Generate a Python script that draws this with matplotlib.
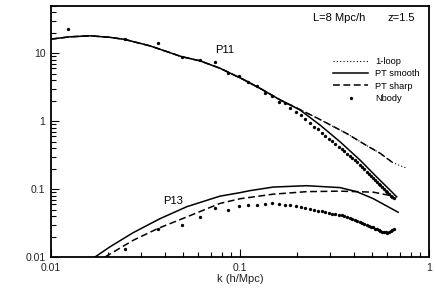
import numpy as np
import matplotlib
matplotlib.use("Agg")
import matplotlib.pyplot as plt

plt.rcParams['font.family'] = ['Liberation Sans', 'DejaVu Sans']

# N-body bins (h/Mpc)
k_nbody = [0.0123, 0.0246, 0.0369, 0.0492, 0.0615, 0.0738, 0.0861, 0.0984, 0.1107, 0.1230,
           0.1353, 0.1476, 0.1599, 0.1722, 0.1845, 0.1968, 0.2091, 0.2214, 0.2337, 0.2460,
           0.2583, 0.2706, 0.2829, 0.2952, 0.3075, 0.3198, 0.3321, 0.3444, 0.3567, 0.3690,
           0.3813, 0.3936, 0.4059, 0.4182, 0.4305, 0.4428, 0.4551, 0.4674, 0.4797, 0.4920,
           0.5043, 0.5166, 0.5289, 0.5412, 0.5535, 0.5658, 0.5781, 0.5904, 0.6027, 0.6150,
           0.6273, 0.6396, 0.6519]
p11_nbody = [22.6, 16.1, 14.0, 8.9, 8.0, 7.5, 5.1, 4.6, 3.8, 3.3,
             2.57, 2.35, 1.93, 1.83, 1.55, 1.38, 1.23, 1.06, 0.93, 0.83,
             0.757, 0.676, 0.611, 0.553, 0.505, 0.461, 0.422, 0.388, 0.357, 0.330,
             0.306, 0.284, 0.264, 0.246, 0.227, 0.210, 0.195, 0.181, 0.168, 0.156,
             0.146, 0.136, 0.128, 0.120, 0.113, 0.106, 0.0997, 0.0944, 0.0894, 0.0847,
             0.0802, 0.0767, 0.0747]
# P13 N-body starts at second bin
p13_nbody = [0.0130, 0.0256, 0.0294, 0.0389, 0.0523, 0.0489, 0.056, 0.058, 0.058,
             0.060, 0.0614, 0.060, 0.0585, 0.058, 0.0565, 0.0546, 0.0535, 0.0506, 0.0493,
             0.048, 0.0472, 0.0461, 0.0446, 0.0434, 0.0426, 0.0416, 0.0412, 0.0398, 0.0385,
             0.0373, 0.036, 0.0348, 0.0333, 0.0325, 0.0314, 0.0307, 0.0299, 0.029, 0.0279,
             0.0272, 0.0262, 0.0254, 0.0248, 0.0239, 0.0235, 0.0231, 0.0235, 0.0229, 0.0235,
             0.0243, 0.0252, 0.0260]

# P11 theory curves
k_p11_smooth = [0.0100, 0.0126, 0.0161, 0.0205, 0.0246, 0.0334, 0.0490, 0.0615, 0.0783, 0.104,
                0.132, 0.163, 0.2075, 0.265, 0.338, 0.4315, 0.528, 0.622, 0.675]
p11_smooth = [16.1, 17.4, 18.0, 17.1, 15.9, 12.8, 8.9, 7.7, 6.0, 4.11,
              2.88, 2.05, 1.46, 0.876, 0.497, 0.267, 0.151, 0.0964, 0.0767]

k_p11_sharp = [0.0100, 0.0126, 0.0161, 0.0205, 0.0246, 0.0334, 0.0490, 0.0615, 0.0783, 0.104,
               0.132, 0.163, 0.2075, 0.265, 0.367, 0.468, 0.550, 0.637]
p11_sharp = [16.1, 17.4, 18.0, 17.1, 15.9, 12.8, 8.9, 7.7, 6.0, 4.11,
             2.88, 2.05, 1.48, 1.056, 0.656, 0.436, 0.338, 0.249]

k_p11_1loop = [0.0100, 0.0126, 0.0161, 0.0205, 0.0246, 0.0334, 0.0490, 0.0615, 0.0783, 0.104,
               0.132, 0.163, 0.2075, 0.265, 0.367, 0.468, 0.550, 0.637, 0.702, 0.762]
p11_1loop = [16.1, 17.4, 18.0, 17.1, 15.9, 12.8, 8.9, 7.7, 6.0, 4.11,
             2.88, 2.05, 1.48, 1.056, 0.656, 0.436, 0.338, 0.249, 0.221, 0.203]

# P13 theory curves
k_p13_smooth = [0.0171, 0.0205, 0.0272, 0.0377, 0.0523, 0.0783, 0.100, 0.1128, 0.150, 0.2255,
                0.338, 0.414, 0.507, 0.686]
p13_smooth = [0.0100, 0.0141, 0.0228, 0.0366, 0.0550, 0.0786, 0.0885, 0.0947, 0.107, 0.112,
              0.105, 0.0916, 0.0722, 0.0456]

k_p13_sharp = [0.0193, 0.0272, 0.0368, 0.0523, 0.0783, 0.100, 0.150, 0.2255, 0.338, 0.507, 0.647]
p13_sharp = [0.0100, 0.0176, 0.0263, 0.0389, 0.0614, 0.072, 0.0841, 0.0916, 0.0931, 0.090, 0.0787]

fig = plt.figure(figsize=(4.36, 3.08), dpi=100)
ax = fig.add_axes([0.117, 0.1656, 0.867, 0.816])

lw = 1.1
ax.plot(k_p11_1loop, p11_1loop, color='k', lw=0.8, dashes=(1, 2), label='1-loop')
ax.plot(k_p11_smooth, p11_smooth, color='k', lw=lw, label='PT smooth')
ax.plot(k_p11_sharp, p11_sharp, color='k', lw=lw, dashes=(4.5, 2.3), label='PT sharp')
ax.plot(k_nbody, p11_nbody, 'o', color='k', ms=2.4, mew=0, label='Nbody')

ax.plot(k_p13_smooth, p13_smooth, color='k', lw=lw)
ax.plot(k_p13_sharp, p13_sharp, color='k', lw=lw, dashes=(4.5, 2.3))
ax.plot(k_nbody[1:], p13_nbody, 'o', color='k', ms=2.4, mew=0)

ax.set_xscale('log')
ax.set_yscale('log')
ax.set_xlim(0.01, 1)
ax.set_ylim(0.01, 50)
ax.set_xticks([0.01, 0.1, 1])
ax.set_xticklabels(['0.01', '0.1', '1'])
ax.set_yticks([0.01, 0.1, 1, 10])
ax.set_yticklabels(['0.01', '0.1', '1', '10'])
ax.tick_params(which='both', direction='in', top=False, right=False,
               labelsize=7.5, labelcolor='#222222', width=0.8)
ax.tick_params(which='major', length=6, pad=4)
ax.tick_params(which='minor', length=3.5)
for sp in ax.spines.values():
    sp.set_linewidth(1.3)

ax.set_xlabel('k (h/Mpc)', fontsize=8, color='#222222', labelpad=1)

ax.text(0.693, 0.951, 'L=8 Mpc/h', transform=ax.transAxes, fontsize=8, va='center', ha='left')
ax.text(0.963, 0.951, 'z=1.5', transform=ax.transAxes, fontsize=8, va='center', ha='right')
ax.text(0.434, 0.822, 'P11', transform=ax.transAxes, fontsize=8, va='center', ha='left')
ax.text(0.296, 0.222, 'P13', transform=ax.transAxes, fontsize=8, va='center', ha='left')

ax.legend(loc='upper left', bbox_to_anchor=(0.746, 0.795), frameon=False, fontsize=6.7,
          handlelength=3.8, handletextpad=0.7, labelspacing=0.35, borderpad=0,
          borderaxespad=0, markerscale=1.0)

fig.savefig('out.png', dpi=100)
